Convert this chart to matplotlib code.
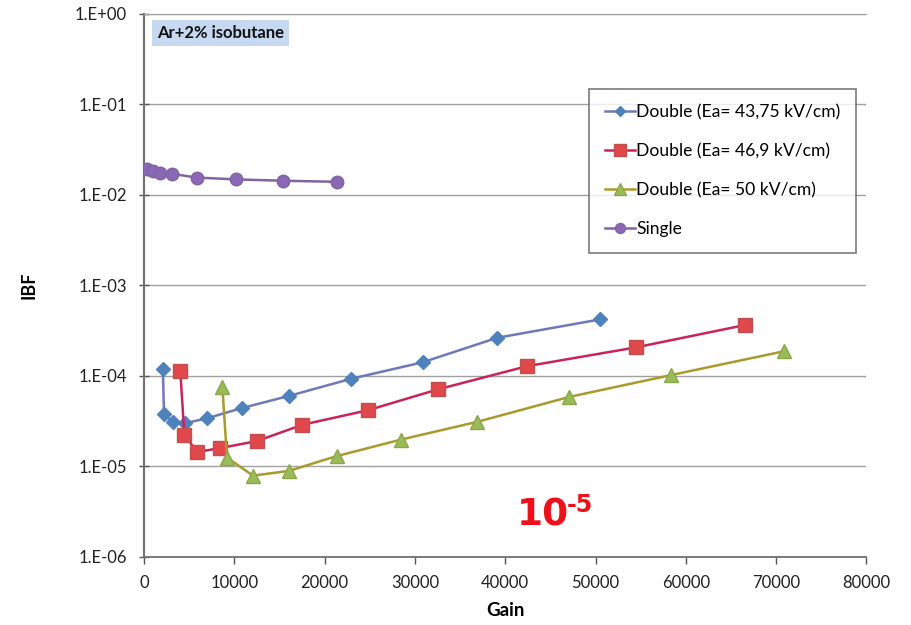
import matplotlib
matplotlib.use("Agg")
import matplotlib.pyplot as plt

plt.rcParams['font.family'] = ['Lato', 'DejaVu Sans']

# Double, Ea = 43,75 kV/cm
gain_a = [2080, 2200, 3190, 4570, 7000, 10800, 16050, 22970, 30840, 39100, 50500]
ibf_a = [1.18e-4, 3.83e-5, 3.07e-5, 3.0e-5, 3.4e-5, 4.4e-5, 6.0e-5, 9.3e-5, 1.41e-4, 2.63e-4, 4.2e-4]

# Double, Ea = 46,9 kV/cm
gain_b = [4010, 4460, 5900, 8400, 12470, 17540, 24800, 32570, 42440, 54460, 66500]
ibf_b = [1.13e-4, 2.22e-5, 1.44e-5, 1.59e-5, 1.9e-5, 2.88e-5, 4.17e-5, 7.1e-5, 1.28e-4, 2.06e-4, 3.63e-4]

# Double, Ea = 50 kV/cm
gain_c = [8670, 9180, 12060, 16020, 21370, 28400, 36830, 47100, 58370, 70900]
ibf_c = [7.5e-5, 1.25e-5, 7.9e-6, 8.9e-6, 1.3e-5, 1.97e-5, 3.09e-5, 5.85e-5, 1.02e-4, 1.87e-4]

# Single
gain_s = [310, 980, 1720, 3130, 5850, 10140, 15390, 21340]
ibf_s = [1.91e-2, 1.82e-2, 1.76e-2, 1.70e-2, 1.55e-2, 1.48e-2, 1.43e-2, 1.39e-2]

labels = ["Double (Ea= 43,75 kV/cm)", "Double (Ea= 46,9 kV/cm)",
          "Double (Ea= 50 kV/cm)", "Single"]
y_ticks = [1e0, 1e-1, 1e-2, 1e-3, 1e-4, 1e-5, 1e-6]
y_ticklabels = ["1.E+00", "1.E-01", "1.E-02", "1.E-03", "1.E-04", "1.E-05", "1.E-06"]
x_ticks = [0, 10000, 20000, 30000, 40000, 50000, 60000, 70000, 80000]

fig = plt.figure(figsize=(9.12, 6.25), dpi=100)
ax = fig.add_axes([0.158, 0.109, 0.792, 0.869])

ax.plot(gain_a, ibf_a, color='#6f78bb', lw=1.8, marker='D', ms=7,
        mfc='#4f81bd', mec='#4f81bd', label=labels[0], zorder=3)
ax.plot(gain_b, ibf_b, color='#c8245a', lw=1.8, marker='s', ms=10,
        mfc='#e0484c', mec='#c0504d', label=labels[1], zorder=3)
ax.plot(gain_c, ibf_c, color='#aa9a2c', lw=1.8, marker='^', ms=10,
        mfc='#9bbb59', mec='#8aa84a', label=labels[2], zorder=3)
ax.plot(gain_s, ibf_s, color='#8064a2', lw=1.8, marker='o', ms=9,
        mfc='#8a68b5', mec='#8064a2', label=labels[3], zorder=3)

ax.set_yscale('log')
ax.set_ylim(1e-6, 1e0)
ax.set_xlim(0, 80000)
ax.set_yticks(y_ticks)
ax.set_yticklabels(y_ticklabels)
ax.minorticks_off()
ax.set_xticks(x_ticks)
ax.set_xticklabels([str(v) for v in x_ticks])
ax.tick_params(axis='y', labelsize=12, colors='#555555', labelcolor='#222222',
               length=7, direction='inout', width=1, pad=9)
ax.tick_params(axis='x', labelsize=12, colors='#555555', labelcolor='#222222',
               length=5, direction='out', width=1, pad=8)

ax.grid(axis='y', color='#a0a0a0', lw=1)
ax.set_axisbelow(True)
ax.spines['right'].set_visible(False)
ax.spines['top'].set_color('#a0a0a0')
ax.spines['left'].set_color('#707070')
ax.spines['bottom'].set_color('#707070')
ax.spines['left'].set_linewidth(1.5)
ax.spines['bottom'].set_linewidth(1.3)

ax.set_ylabel("IBF", fontsize=13, fontweight='bold', labelpad=27)
ax.set_xlabel("Gain", fontsize=13.5, fontweight='bold', labelpad=8)

leg = ax.legend(loc='upper left', bbox_to_anchor=(0.616, 0.862), fontsize=12.6,
                frameon=True, fancybox=False, edgecolor='#666666',
                labelspacing=1.3, handlelength=1.7, handletextpad=0.1,
                borderpad=0.9, borderaxespad=0, markerscale=0.8)
leg.get_frame().set_linewidth(1.3)

ax.text(0.018, 0.965, "Ar+2% isobutane", transform=ax.transAxes, fontsize=12,
        fontweight='bold', va='center', ha='left', color='#111111',
        bbox=dict(boxstyle='square,pad=0.3', fc='#c6d9f1', ec='none'))

# red "10^-5" note
fig.text(517 / 912, 1 - 525 / 625, "10", fontsize=27, fontweight='bold',
         color='#f0101a', ha='left', va='baseline', family='DejaVu Sans')
fig.text(567 / 912, 1 - 512 / 625, "-5", fontsize=17, fontweight='bold',
         color='#f0101a', ha='left', va='baseline', family='DejaVu Sans')

fig.savefig("out.png", dpi=100)
